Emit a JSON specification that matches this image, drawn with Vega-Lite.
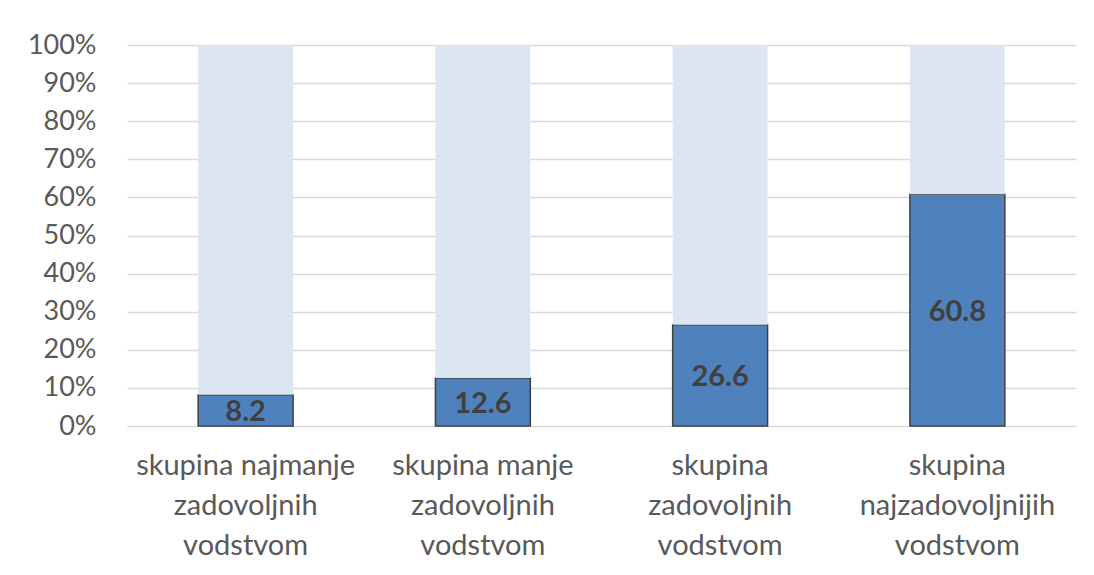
{
  "$schema": "https://vega.github.io/schema/vega-lite/v6.json",
  "width": 949,
  "height": 381,
  "autosize": {"type": "none"},
  "padding": {"left": 127, "top": 45, "right": 18, "bottom": 149},
  "background": "white",
  "config": {
    "view": {"stroke": null},
    "font": "Lato",
    "axisY": {
      "values": [0, 10, 20, 30, 40, 50, 60, 70, 80, 90, 100],
      "tickCount": 11,
      "labelExpr": "datum.value + '%'",
      "labelFontSize": 27,
      "labelColor": "#595959",
      "labelPadding": 31,
      "labelOverlap": false,
      "domain": false,
      "ticks": false,
      "grid": true,
      "gridColor": "#d9d9d9",
      "gridWidth": 1.3
    }
  },
  "data": {
    "values": [
      {"skupina": "skupina najmanje|zadovoljnih|vodstvom", "del": "da", "ord": 1, "vrednost": 8.2, "oznaka": "8.2", "sredina": 4.1},
      {"skupina": "skupina najmanje|zadovoljnih|vodstvom", "del": "ostalo", "ord": 2, "vrednost": 91.8},
      {"skupina": "skupina manje|zadovoljnih|vodstvom", "del": "da", "ord": 1, "vrednost": 12.6, "oznaka": "12.6", "sredina": 6.3},
      {"skupina": "skupina manje|zadovoljnih|vodstvom", "del": "ostalo", "ord": 2, "vrednost": 87.4},
      {"skupina": "skupina|zadovoljnih|vodstvom", "del": "da", "ord": 1, "vrednost": 26.6, "oznaka": "26.6", "sredina": 13.3},
      {"skupina": "skupina|zadovoljnih|vodstvom", "del": "ostalo", "ord": 2, "vrednost": 73.4},
      {"skupina": "skupina|najzadovoljnijih|vodstvom", "del": "da", "ord": 1, "vrednost": 60.8, "oznaka": "60.8", "sredina": 30.4},
      {"skupina": "skupina|najzadovoljnijih|vodstvom", "del": "ostalo", "ord": 2, "vrednost": 39.2}
    ]
  },
  "encoding": {
    "x": {
      "field": "skupina",
      "type": "nominal",
      "sort": null,
      "title": null,
      "scale": {"paddingInner": 0.6, "paddingOuter": 0.3},
      "axis": {
        "labelExpr": "split(datum.label, '|')",
        "labelAngle": 0,
        "labelFontSize": 29,
        "labelLineHeight": 40,
        "labelColor": "#595959",
        "labelPadding": 25,
        "labelLimit": 300,
        "labelOverlap": false,
        "domain": true,
        "domainColor": "#d9d9d9",
        "ticks": false
      }
    }
  },
  "layer": [
    {
      "mark": {"type": "bar"},
      "encoding": {
        "y": {
          "field": "vrednost",
          "type": "quantitative",
          "stack": "zero",
          "scale": {"domain": [0, 100]},
          "title": null
        },
        "order": {"field": "ord", "type": "quantitative"},
        "color": {
          "field": "del",
          "type": "nominal",
          "scale": {"domain": ["da", "ostalo"], "range": ["#4F81BD", "#DCE6F2"]},
          "legend": null
        },
        "stroke": {
          "field": "del",
          "type": "nominal",
          "scale": {"domain": ["da", "ostalo"], "range": ["#404040", "transparent"]},
          "legend": null
        },
        "strokeWidth": {"value": 1.5}
      }
    },
    {
      "transform": [{"filter": "datum.del === 'da'"}],
      "mark": {"type": "text", "fontSize": 29, "fontWeight": "bold", "color": "#404040", "baseline": "middle", "dy": 2},
      "encoding": {
        "y": {"field": "sredina", "type": "quantitative", "title": null},
        "text": {"field": "oznaka", "type": "nominal"}
      }
    }
  ]
}
